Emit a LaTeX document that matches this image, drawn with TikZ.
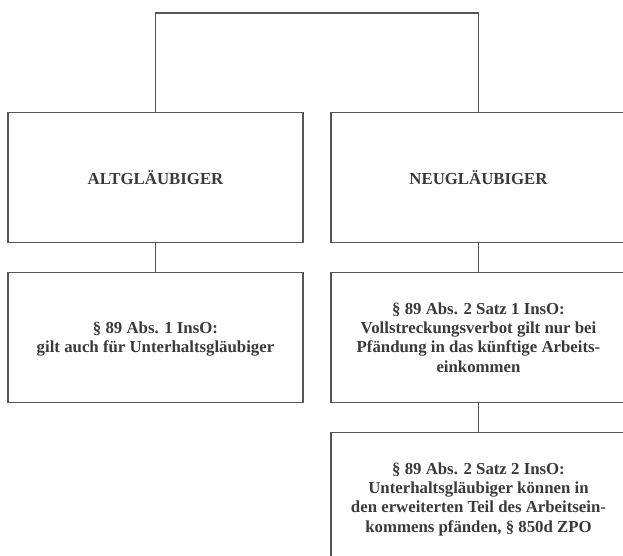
\documentclass[tikz,border=0pt]{standalone}
\usepackage{fontspec}
\setmainfont{Liberation Serif}

\definecolor{rahmen}{HTML}{555555}
\definecolor{schrift}{HTML}{3A3A3A}

\tikzset{
  kasten/.style={draw=rahmen, line width=1.3pt, minimum width=295pt,
    minimum height=130pt, align=center, text=schrift,
    font=\fontsize{16.8}{19.2}\selectfont\bfseries, inner sep=0pt,
    text depth=0pt, execute at begin node={\rule{0pt}{13pt}}},
  linie/.style={draw=rahmen, line width=1.3pt}
}

\begin{document}
\begin{tikzpicture}[x=1pt, y=-1pt]
      \useasboundingbox (0,0) rectangle (623,555);
      \clip (0,0) rectangle (623,555);



      \node[kasten] (alt) at (155.5,177.5) {ALTGL\"AUBIGER};

      \node[kasten] (neu) at (478.5,177.5) {NEUGL\"AUBIGER};

      \coordinate (oben) at (317,13);

      \draw[linie] (alt.north) |- (oben) -| (neu.north);



      \node[kasten] (alteins) at (155.5,337.5) {\S\ 89 Abs. 1 InsO:\\
        gilt auch f\"ur Unterhaltsgl\"aubiger};

      \node[kasten] (neueins) at (478.5,337.5) {\S\ 89 Abs. 2 Satz 1 InsO:\\
        Vollstreckungsverbot gilt nur bei\\
        Pf\"andung in das k\"unftige Arbeits-\\
        einkommen};

      \draw[linie] (alt) -- (alteins);

      \draw[linie] (neu) -- (neueins);


      \node[kasten] (neuzwei) at (478.5,497.5) {\S\ 89 Abs. 2 Satz 2 InsO:\\
        Unterhaltsgl\"aubiger k\"onnen in\\
        den erweiterten Teil des Arbeitsein-\\
        kommens pf\"anden, \S\ 850d ZPO};

      \draw[linie] (neueins) -- (neuzwei);
    \end{tikzpicture}
\end{document}
